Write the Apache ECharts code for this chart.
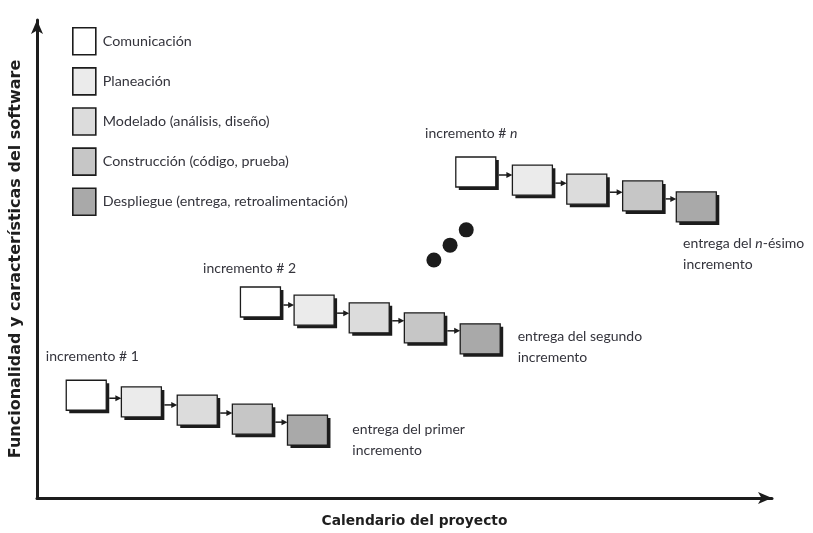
<!DOCTYPE html>
<html>
<head>
<meta charset="utf-8">
<script src="https://cdn.jsdelivr.net/npm/echarts@6/dist/echarts.min.js"></script>
<style>html,body{margin:0;padding:0;background:#fff}#c{width:813px;height:533px}</style>
</head>
<body>
<div id="c"></div>
<script>
// ---- data ----
const phases = ['Comunicación', 'Planeación', 'Modelado (análisis, diseño)', 'Construcción (código, prueba)', 'Despliegue (entrega, retroalimentación)'];
const increments = ['incremento # 1', 'incremento # 2', 'incremento # {i|n}'];
const deliveries = ['entrega del primer\nincremento', 'entrega del segundo\nincremento', 'entrega del {i|n}-ésimo\nincremento'];

// box centres: project calendar (x) and functionality (y), one value per phase
const inc1Time = [6.7, 14.2, 21.8, 29.3, 36.8];
const inc1Level = [21.5, 20.1, 18.4, 16.5, 14.2];
const inc2Time = [30.4, 37.7, 45.2, 52.7, 60.3];
const inc2Level = [41.0, 39.3, 37.7, 35.6, 33.3];
const incNTime = [59.7, 67.4, 74.8, 82.4, 89.7];
const incNLevel = [68.2, 66.5, 64.6, 63.2, 60.9];

// annotation anchors
const incLabelTime = [1.2, 22.6, 52.8];
const incLabelLevel = [29.7, 48.1, 76.2];
const delivLabelTime = [42.9, 65.4, 87.9];
const delivLabelLevel = [12.1, 31.6, 51.0];
const dotsTime = [54.0, 56.2, 58.4];
const dotsLevel = [49.8, 52.9, 56.1];

const xAxisName = 'Calendario del proyecto';
const yAxisName = 'Funcionalidad y características del software';

// ---- styles ----
const phaseColors = ['#ffffff', '#ebebeb', '#dcdcdc', '#c6c6c6', '#a9a9a9'];
const INK = '#1c1c1c';
const TEXT = '#34343c';
const BOX_W = 40, BOX_H = 30, SH = 3;
const FONT = 'Lato, "Liberation Sans", sans-serif';
const BOLD_FONT = '"DejaVu Sans", sans-serif';

const incs = [[inc1Time, inc1Level], [inc2Time, inc2Level], [incNTime, incNLevel]];

function boxRender(p) {
  const hasNext = p < phases.length - 1;
  return function (params, api) {
    const c = api.coord([api.value(0), api.value(1)]);
    const x = c[0] - BOX_W / 2, y = c[1] - BOX_H / 2;
    const children = [
      { type: 'rect', shape: { x: x + SH, y: y + SH, width: BOX_W, height: BOX_H }, style: { fill: INK } },
      { type: 'rect', shape: { x: x, y: y, width: BOX_W, height: BOX_H }, style: { fill: phaseColors[p], stroke: INK, lineWidth: 1.3 } }
    ];
    if (hasNext) {
      const n = api.coord([api.value(2), api.value(3)]);
      const nx = n[0] - BOX_W / 2;
      const ly = y + 18;
      children.push({ type: 'line', shape: { x1: x + BOX_W + SH, y1: ly, x2: nx - 4, y2: ly }, style: { stroke: INK, lineWidth: 1.5 } });
      children.push({ type: 'polygon', shape: { points: [[nx - 6, ly - 3], [nx, ly], [nx - 6, ly + 3]] }, style: { fill: INK } });
    }
    return { type: 'group', children: children };
  };
}

const series = phases.map(function (name, p) {
  return {
    name: name,
    type: 'custom',
    renderItem: boxRender(p),
    itemStyle: { color: phaseColors[p], borderColor: INK, borderWidth: 1.3 },
    data: incs.map(function (inc) {
      const t = inc[0], l = inc[1];
      const q = Math.min(p + 1, t.length - 1);
      return [t[p], l[p], t[q], l[q]];
    }),
    z: 10 - p
  };
});

const rich = { i: { fontStyle: 'italic', fontFamily: FONT, fontSize: 14, fill: TEXT, color: TEXT } };

function textRender(labels, lh) {
  return function (params, api) {
    const c = api.coord([api.value(0), api.value(1)]);
    return {
      type: 'text', x: c[0], y: c[1],
      style: { text: labels[params.dataIndex], fill: TEXT, font: '14px ' + FONT, align: 'left', verticalAlign: 'middle', lineHeight: lh, rich: rich }
    };
  };
}

series.push({
  type: 'custom', name: 'incLabels', renderItem: textRender(increments, 16), silent: true,
  data: incLabelTime.map(function (t, i) { return [t, incLabelLevel[i]]; })
});
series.push({
  type: 'custom', name: 'delivLabels', renderItem: textRender(deliveries, 21), silent: true,
  data: delivLabelTime.map(function (t, i) { return [t, delivLabelLevel[i]]; })
});
series.push({
  type: 'scatter', name: 'dots', symbol: 'circle', symbolSize: 15, silent: true,
  itemStyle: { color: INK, opacity: 1 },
  data: dotsTime.map(function (t, i) { return [t, dotsLevel[i]]; })
});

const chart = echarts.init(document.getElementById('c'));
chart.setOption({
  animation: false,
  backgroundColor: '#fff',
  grid: { left: 37, right: 41, top: 20, bottom: 35 },
  legend: {
    orient: 'vertical', left: 72, top: 27, padding: 0, itemWidth: 23, itemHeight: 27, itemGap: 11.5,
    icon: 'rect', selectedMode: false,
    textStyle: { fontFamily: FONT, fontSize: 14.3, color: TEXT, padding: [0, 0, 0, 2] },
    data: phases.map(function (n, p) { return { name: n, itemStyle: { color: phaseColors[p], borderColor: INK, borderWidth: 1.6 } }; })
  },
  xAxis: {
    type: 'value', min: 0, max: 100,
    name: xAxisName, nameLocation: 'middle', nameGap: 16,
    nameTextStyle: { fontFamily: BOLD_FONT, fontWeight: 'bold', fontSize: 13.8, color: '#1e1e1e', padding: [0, 0, 0, 20] },
    axisLine: { show: true, onZero: false, symbol: ['none', 'arrow'], symbolSize: [9, 14], lineStyle: { color: INK, width: 3 } },
    axisTick: { show: false }, axisLabel: { show: false }, splitLine: { show: false }
  },
  yAxis: {
    type: 'value', min: 0, max: 100,
    name: yAxisName, nameLocation: 'middle', nameGap: 13, nameRotate: 90,
    nameTextStyle: { fontFamily: BOLD_FONT, fontWeight: 'bold', fontSize: 16, color: '#1e1e1e' },
    axisLine: { show: true, onZero: false, symbol: ['none', 'arrow'], symbolSize: [9, 14], lineStyle: { color: INK, width: 3 } },
    axisTick: { show: false }, axisLabel: { show: false }, splitLine: { show: false }
  },
  series: series
});
</script>
</body>
</html>
